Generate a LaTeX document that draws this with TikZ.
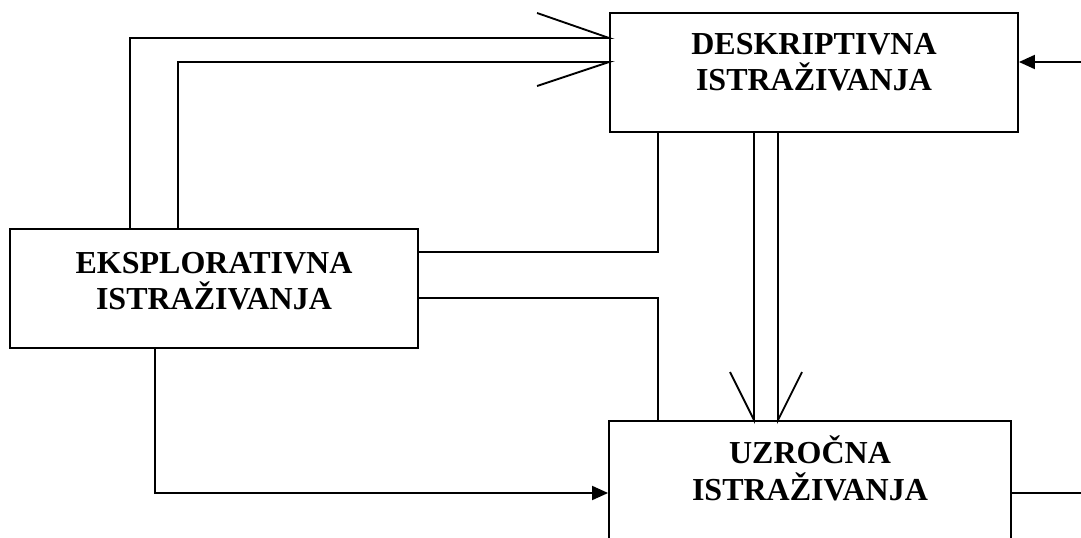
\documentclass[tikz,border=0pt]{standalone}
\usepackage{fontspec}
\setmainfont{Liberation Serif}
\usetikzlibrary{arrows.meta}
\usetikzlibrary{fit}

\begin{document}
\begin{tikzpicture}[x=0.75pt, y=-0.75pt, line width=1.4pt, >={Triangle[length=12pt,width=10.5pt]},
    box/.style = {draw, rectangle, inner sep=0pt, line width=1.4pt},
    lbl/.style = {align=center, inner sep=0pt, anchor=base, font=\bfseries\fontsize{24}{27.5}\selectfont}]
    \useasboundingbox (0,0) rectangle (1081,538);
    \clip (0,0) rectangle (1081,538);
    % Nodes

    \node[box, fit={(610,13) (1018,132)}] (desk) {};
    \node[box, fit={(10,229) (418,348)}] (expl) {};
    \node[box, fit={(609,421) (1011,570)}] (uzr) {};

    \node[lbl] (deskT) at (desk.center |- 0,91) {DESKRIPTIVNA\\ISTRAŽIVANJA};
    \node[lbl] (explT) at (expl.center |- 0,310) {EKSPLORATIVNA\\ISTRAŽIVANJA};
    \node[lbl] (uzrT) at (uzr.center |- 0,500) {UZROČNA\\ISTRAŽIVANJA};

    \coordinate (inR) at (1081,62);
    \coordinate (outR) at (1081,493);

    % Edges
    \draw (expl.north -| 130,0) |- (desk.west |- 0,38) -- ++(-72,-25);
    \draw (expl.north -| 178,0) |- (desk.west |- 0,62) -- ++(-72,24);

    \draw (expl.east |- 0,252) -| (desk.south -| 658,0);
    \draw (expl.east |- 0,298) -| (uzr.north -| 658,0);

    \draw (desk.south -| 754,0) -- (uzr.north -| 754,0) -- ++(-24,-48);
    \draw (desk.south -| 778,0) -- (uzr.north -| 778,0) -- ++(24,-48);

    \draw[->] (expl.south -| 155,0) |- (uzr.west |- 0,493);
    \draw[->] (inR) -- (desk.east |- inR);
    \draw (uzr.east |- outR) -- (outR);

\end{tikzpicture}
\end{document}
